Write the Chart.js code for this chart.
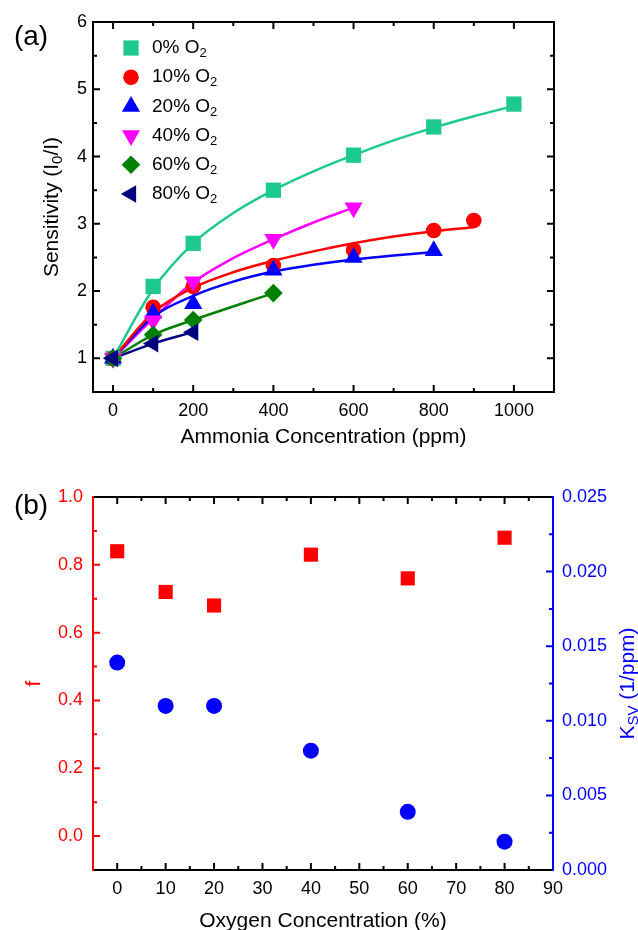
<!DOCTYPE html>
<html>
<head>
<meta charset="utf-8">
<title>Ammonia sensitivity / Stern-Volmer parameters</title>
<script src="https://cdn.jsdelivr.net/npm/chart.js"></script>
<style>
html,body{margin:0;padding:0;background:#fff;overflow:hidden;}
canvas{display:block;}
#panelA{position:absolute;left:0;top:0;}
#panelB{position:absolute;left:0;top:460px;}
</style>
</head>
<body>

<canvas id="panelA" width="638" height="460"></canvas>
<canvas id="panelB" width="638" height="480"></canvas>

<script>
/* =========================================================
DATA
========================================================= */

// (a) sensitivity I0/I vs ammonia (ppm), one pair per O2 level
const ppm0  = [0,100,200,400,600,800,1000];
const sens0 = [1.00,2.07,2.71,3.50,4.02,4.44,4.78];

const ppm10  = [0,100,200,400,600,800,900];
const sens10 = [1.00,1.76,2.07,2.38,2.61,2.90,3.05];

const ppm20  = [0,100,200,400,600,800];
const sens20 = [1.00,1.67,1.81,2.31,2.50,2.60];

const ppm40  = [0,100,200,400,600];
const sens40 = [1.00,1.56,2.14,2.77,3.24];

const ppm60  = [0,100,200,400];
const sens60 = [1.00,1.35,1.57,1.97];

const ppm80  = [0,100,200];
const sens80 = [1.00,1.22,1.39];

// fitted curves, sampled off the figure
const fitPpm0 = [0,100,200,300,400,500,600,700,800,900,1000];
const fit0    = [1.00,2.03,2.71,3.16,3.50,3.78,4.02,4.24,4.43,4.60,4.75];

const fitPpm10 = [0,100,200,300,400,500,600,700,800,900];
const fit10    = [1.00,1.68,2.05,2.28,2.45,2.59,2.71,2.81,2.89,2.95];

const fitPpm20 = [0,100,200,300,400,500,600,700,800];
const fit20    = [1.00,1.62,1.93,2.14,2.29,2.39,2.47,2.53,2.58];

const fitPpm40 = [0,100,200,300,400,500,600];
const fit40    = [1.00,1.59,2.13,2.49,2.77,3.02,3.24];

const legendNames = ['0%','10%','20%','40%','60%','80%'];

const ammoniaTicks = [0,200,400,600,800,1000];
const sensTicks    = [1,2,3,4,5,6];

// (b) two-site Stern-Volmer parameters vs oxygen (%)
const oxygen    = [0,10,20,40,60,80];
const fValues   = [0.84,0.72,0.68,0.83,0.76,0.88];
const ksvValues = [0.0139,0.0110,0.0110,0.0080,0.0039,0.0019];

const oxygenTicks = [0,10,20,30,40,50,60,70,80,90];
const fTicks      = [0,0.2,0.4,0.6,0.8,1.0];
const ksvTicks    = [0,0.005,0.010,0.015,0.020,0.025];

/* =========================================================
STYLE
========================================================= */

const FONT = '"Liberation Sans", Arial, Helvetica, sans-serif';
Chart.defaults.font.family = FONT;

const colA = ['#1ec98f','#ff0000','#0000ff','#ff00ff','#008000','#000080'];

const shapeA = [
  {style:'rect',     r:10.8, rot:0},
  {style:'circle',   r:7.8,  rot:0},
  {style:'triangle', r:10.5, rot:0},
  {style:'triangle', r:10.5, rot:180},
  {style:'rectRot',  r:9.3,  rot:0},
  {style:'triangle', r:10.2, rot:-90}
];

const pts = (xs,ys) => xs.map((x,i)=>({x:x, y:ys[i]}));

/* =========================================================
HELPERS
========================================================= */

// text with a subscript piece
function drawParts(ctx, parts, x, y, align, size, color){

  ctx.save();
  ctx.fillStyle = color;
  ctx.textBaseline = 'middle';
  ctx.textAlign = 'left';

  const subSize = Math.round(size*0.7);
  const widths = parts.map(p=>{
    ctx.font = (p.sub ? subSize : size) + 'px ' + FONT;
    return ctx.measureText(p.t).width;
  });
  const total = widths.reduce((a,b)=>a+b,0);

  let cx = align === 'center' ? x - total/2 : x;

  parts.forEach((p,i)=>{
    ctx.font = (p.sub ? subSize : size) + 'px ' + FONT;
    ctx.fillText(p.t, cx, p.sub ? y + size*0.3 : y);
    cx += widths[i];
  });

  ctx.restore();
}

function drawMarker(ctx, shape, color, x, y){
  ctx.save();
  ctx.fillStyle = color;
  Chart.helpers.drawPoint(ctx, {pointStyle:shape.style, radius:shape.r, rotation:shape.rot, borderWidth:0}, x, y);
  ctx.restore();
}

function stepList(from, to, step){
  const out = [];
  for(let v = from; v < to - step*1e-6; v += step){ out.push(v); }
  return out;
}

// Origin-like frame with inward ticks
function framePlugin(sides){

  return {
    id:'frame',
    afterDraw(chart){

      const ctx = chart.ctx;
      const a = chart.chartArea;

      ctx.save();
      ctx.lineWidth = 2;
      ctx.lineCap = 'butt';

      sides.forEach(side=>{

        const scale = chart.scales[side.scale];
        ctx.strokeStyle = side.color;

        ctx.beginPath();

        if(side.pos === 'bottom'){ ctx.moveTo(a.left-1,a.bottom); ctx.lineTo(a.right+1,a.bottom); }
        if(side.pos === 'top'){ ctx.moveTo(a.left-1,a.top); ctx.lineTo(a.right+1,a.top); }
        if(side.pos === 'left'){ ctx.moveTo(a.left,a.top-1); ctx.lineTo(a.left,a.bottom+1); }
        if(side.pos === 'right'){ ctx.moveTo(a.right,a.top-1); ctx.lineTo(a.right,a.bottom+1); }

        const tick = (v,len)=>{
          const p = scale.getPixelForValue(v);
          if(side.pos === 'bottom'){ ctx.moveTo(p,a.bottom); ctx.lineTo(p,a.bottom-len); }
          if(side.pos === 'top'){ ctx.moveTo(p,a.top); ctx.lineTo(p,a.top+len); }
          if(side.pos === 'left'){ ctx.moveTo(a.left,p); ctx.lineTo(a.left+len,p); }
          if(side.pos === 'right'){ ctx.moveTo(a.right,p); ctx.lineTo(a.right-len,p); }
        };

        side.major.forEach(v=>tick(v,7));
        side.minor.forEach(v=>tick(v,4));

        ctx.stroke();

      });

      ctx.restore();
    }
  };
}

/* =========================================================
PANEL (a)
========================================================= */

const markerSets = [
  pts(ppm0,sens0), pts(ppm10,sens10), pts(ppm20,sens20),
  pts(ppm40,sens40), pts(ppm60,sens60), pts(ppm80,sens80)
];

const fitSets = [
  pts(fitPpm0,fit0), pts(fitPpm10,fit10), pts(fitPpm20,fit20),
  pts(fitPpm40,fit40), pts(ppm60,sens60), pts(ppm80,sens80)
];

const datasetsA = [];

markerSets.forEach((d,i)=>{
  datasetsA.push({
    label: legendNames[i] + ' O2',
    data: d,
    showLine: false,
    pointStyle: shapeA[i].style,
    pointRadius: shapeA[i].r,
    pointRotation: shapeA[i].rot,
    pointBackgroundColor: colA[i],
    pointBorderWidth: 0,
    order: 5 - i
  });
});

fitSets.forEach((d,i)=>{
  datasetsA.push({
    label: 'fit ' + legendNames[i],
    data: d,
    showLine: true,
    borderColor: colA[i],
    borderWidth: 2.5,
    pointRadius: 0,
    cubicInterpolationMode: 'monotone',
    order: 10 + i
  });
});

const legendA = {
  id:'legendA',
  afterDraw(chart){
    const ctx = chart.ctx;
    legendNames.forEach((name,i)=>{
      const y = 48 + i*29.2;
      drawMarker(ctx, shapeA[i], colA[i], 131, y);
      drawParts(ctx, [{t:name + ' O'},{t:'2',sub:true}], 152, y, 'left', 19, '#000');
    });
  }
};

const labelsA = {
  id:'labelsA',
  afterDraw(chart){
    const ctx = chart.ctx;
    drawParts(ctx, [{t:'(a)'}], 31, 37, 'center', 28, '#000');

    ctx.save();
    ctx.translate(52, (chart.chartArea.top + chart.chartArea.bottom)/2);
    ctx.rotate(-Math.PI/2);
    drawParts(ctx, [{t:'Sensitivity (I'},{t:'0',sub:true},{t:'/I)'}], 0, 0, 'center', 21, '#000');
    ctx.restore();
  }
};

const ammoniaMinor = stepList(100, 1100, 200);
const sensMinor = stepList(1.5, 6, 1);

new Chart(document.getElementById('panelA'), {

  type:'scatter',

  data:{ datasets: datasetsA },

  options:{
    responsive:false,
    animation:false,
    events:[],
    layout:{ padding:{ top:22, right:84, left:0, bottom:0 } },
    plugins:{ legend:{display:false}, tooltip:{enabled:false} },
    scales:{
      x:{
        type:'linear',
        position:'bottom',
        min:-50,
        max:1100,
        afterBuildTicks:(s)=>{ s.ticks = ammoniaTicks.map(v=>({value:v})); },
        afterFit:(s)=>{ s.height = 68; },
        grid:{display:false, drawTicks:false},
        border:{display:false},
        ticks:{padding:8, color:'#000', font:{size:18}, maxRotation:0, autoSkip:false, callback:(v)=>String(v)},
        title:{display:true, text:'Ammonia Concentration (ppm)', color:'#000', font:{size:21}, padding:{top:0,bottom:10}}
      },
      y:{
        type:'linear',
        position:'left',
        min:0.5,
        max:6,
        afterBuildTicks:(s)=>{ s.ticks = sensTicks.map(v=>({value:v})); },
        afterFit:(s)=>{ s.width = 93; },
        grid:{display:false, drawTicks:false},
        border:{display:false},
        ticks:{padding:6, color:'#000', font:{size:18}, autoSkip:false}
      }
    }
  },

  plugins:[
    framePlugin([
      {pos:'bottom', scale:'x', color:'#000', major:ammoniaTicks, minor:ammoniaMinor},
      {pos:'top',    scale:'x', color:'#000', major:ammoniaTicks, minor:ammoniaMinor},
      {pos:'left',   scale:'y', color:'#000', major:sensTicks.slice(0,-1), minor:sensMinor},
      {pos:'right',  scale:'y', color:'#000', major:sensTicks.slice(0,-1), minor:sensMinor}
    ]),
    legendA,
    labelsA
  ]

});

/* =========================================================
PANEL (b)
========================================================= */

const labelsB = {
  id:'labelsB',
  afterDraw(chart){
    const ctx = chart.ctx;
    drawParts(ctx, [{t:'(b)'}], 31, 46, 'center', 28, '#000');

    ctx.save();
    ctx.translate(628, (chart.chartArea.top + chart.chartArea.bottom)/2);
    ctx.rotate(-Math.PI/2);
    drawParts(ctx, [{t:'K'},{t:'SV',sub:true},{t:' (1/ppm)'}], 0, 0, 'center', 21, '#0000ff');
    ctx.restore();
  }
};

const oxygenMinor = stepList(5, 90, 10);
const fMinor = stepList(0.1, 1.0, 0.2);
const ksvMinor = stepList(0.0025, 0.025, 0.005);

new Chart(document.getElementById('panelB'), {

  type:'scatter',

  data:{
    datasets:[
      {
        label:'f',
        data: pts(oxygen,fValues),
        yAxisID:'y',
        pointStyle:'rect',
        pointRadius:10,
        pointBackgroundColor:'#ff0000',
        pointBorderWidth:0
      },
      {
        label:'Ksv',
        data: pts(oxygen,ksvValues),
        yAxisID:'y1',
        pointStyle:'circle',
        pointRadius:8,
        pointBackgroundColor:'#0000ff',
        pointBorderWidth:0
      }
    ]
  },

  options:{
    responsive:false,
    animation:false,
    events:[],
    layout:{ padding:{ top:37, right:0, left:0, bottom:0 } },
    plugins:{ legend:{display:false}, tooltip:{enabled:false} },
    scales:{
      x:{
        type:'linear',
        position:'bottom',
        min:-5,
        max:90,
        afterBuildTicks:(s)=>{ s.ticks = oxygenTicks.map(v=>({value:v})); },
        afterFit:(s)=>{ s.height = 70; },
        grid:{display:false, drawTicks:false},
        border:{display:false},
        ticks:{padding:8, color:'#000', font:{size:18}, maxRotation:0, autoSkip:false},
        title:{display:true, text:'Oxygen Concentration (%)', color:'#000', font:{size:21}, padding:{top:0,bottom:6}}
      },
      y:{
        type:'linear',
        position:'left',
        min:-0.1,
        max:1.0,
        afterBuildTicks:(s)=>{ s.ticks = fTicks.map(v=>({value:v})); },
        afterFit:(s)=>{ s.width = 93; },
        grid:{display:false, drawTicks:false},
        border:{display:false},
        ticks:{padding:10, color:'#ff0000', font:{size:18}, autoSkip:false, callback:(v)=>Number(v).toFixed(1)},
        title:{display:true, text:'f', color:'#ff0000', font:{size:21}, padding:{top:22,bottom:0}}
      },
      y1:{
        type:'linear',
        position:'right',
        min:0,
        max:0.025,
        afterBuildTicks:(s)=>{ s.ticks = ksvTicks.map(v=>({value:v})); },
        afterFit:(s)=>{ s.width = 85; },
        grid:{display:false, drawTicks:false},
        border:{display:false},
        ticks:{padding:9, color:'#0000ff', font:{size:18}, autoSkip:false, callback:(v)=>Number(v).toFixed(3)}
      }
    }
  },

  plugins:[
    framePlugin([
      {pos:'bottom', scale:'x',  color:'#000',    major:oxygenTicks.slice(0,-1), minor:oxygenMinor},
      {pos:'top',    scale:'x',  color:'#000',    major:oxygenTicks.slice(0,-1), minor:oxygenMinor},
      {pos:'left',   scale:'y',  color:'#ff0000', major:fTicks.slice(0,-1),      minor:fMinor},
      {pos:'right',  scale:'y1', color:'#0000ff', major:ksvTicks.slice(1,-1),    minor:ksvMinor}
    ]),
    labelsB
  ]

});

/* END */
</script>
</body>
</html>
